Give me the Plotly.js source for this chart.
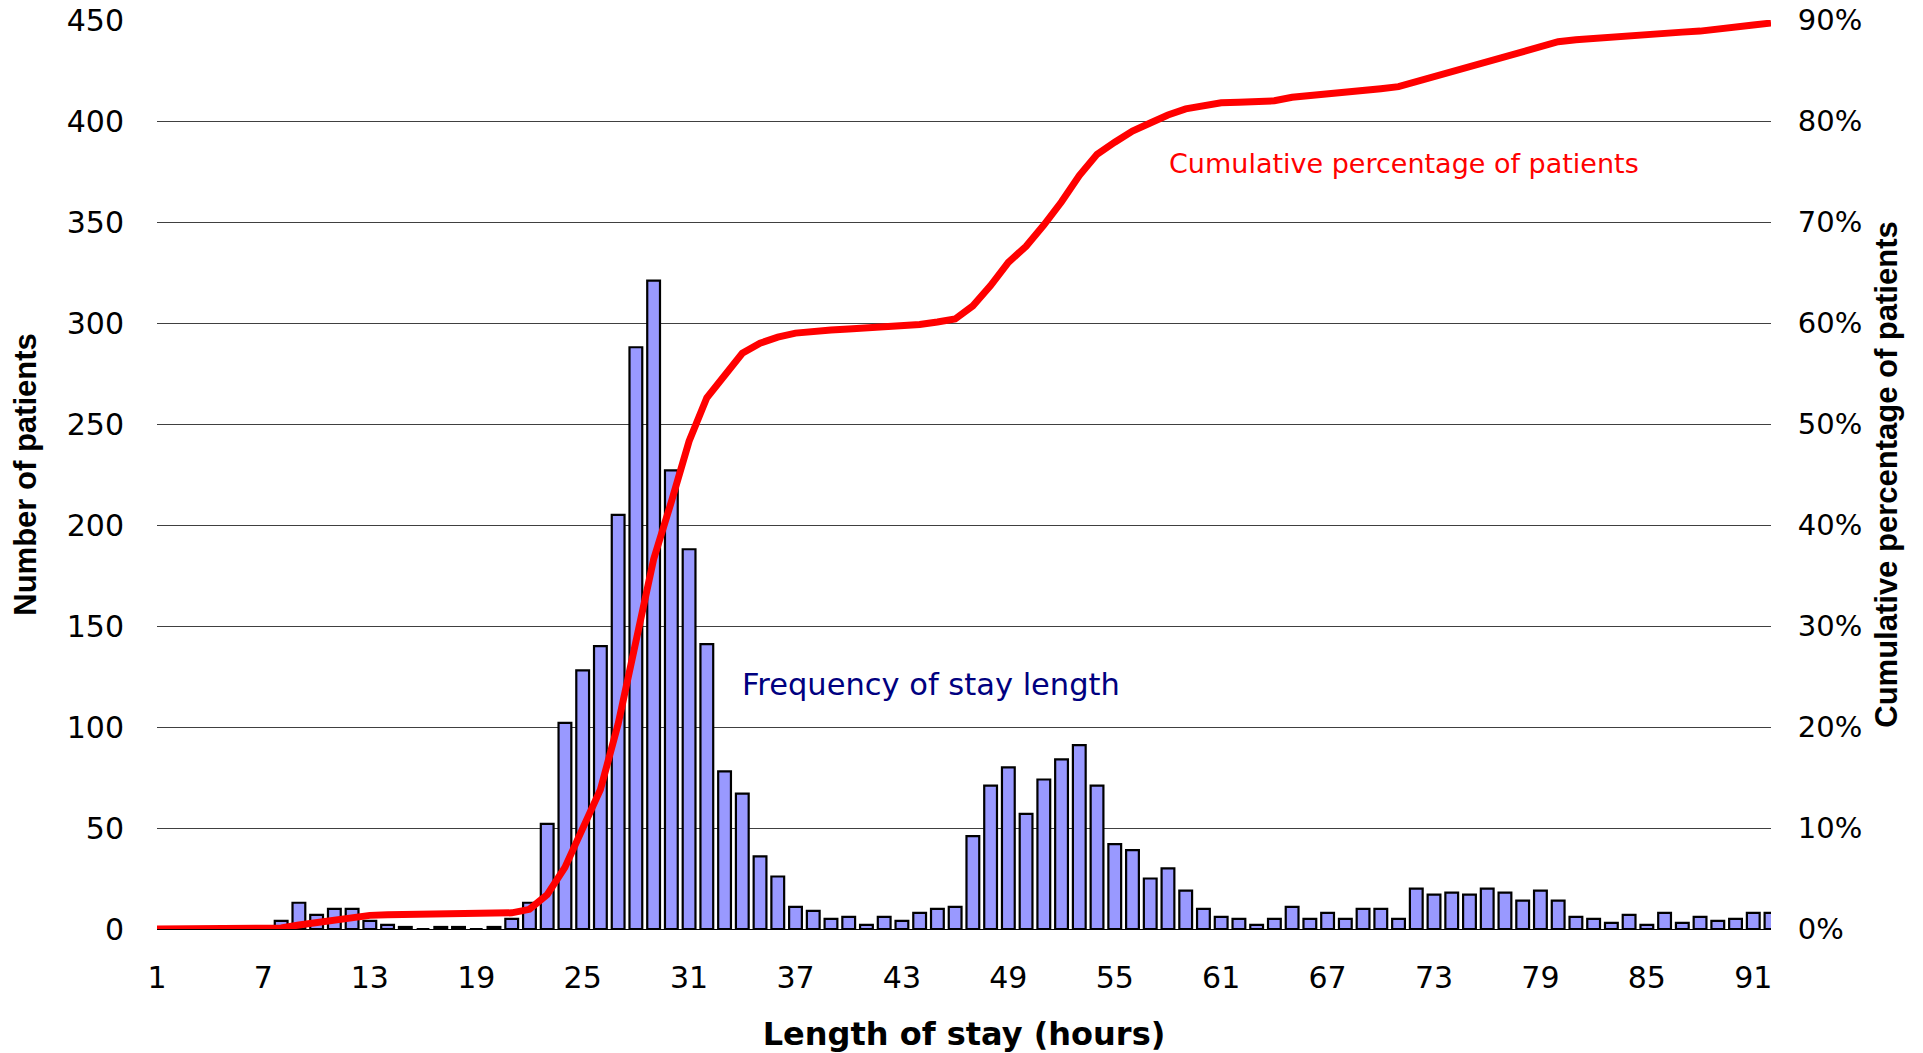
<!DOCTYPE html>
<html>
<head>
<meta charset="utf-8">
<script src="https://cdn.plot.ly/plotly-3.0.1.min.js"></script>
<style>
  html, body { margin: 0; padding: 0; background: #ffffff; }
  #chart { width: 1923px; height: 1053px; }
</style>
</head>
<body>
<div id="chart"></div>
<script>
// Length of stay (hours) categories
var hours = [1,2,3,4,5,6,7,8,9,10,11,12,13,14,15,16,17,18,19,20,21,22,23,24,25,26,27,28,29,30,
  31,32,33,34,35,36,37,38,39,40,41,42,43,44,45,46,47,48,49,50,51,52,53,54,55,56,57,58,59,60,
  61,62,63,64,65,66,67,68,69,70,71,72,73,74,75,76,77,78,79,80,81,82,83,84,85,86,87,88,89,90,91,92];

// Frequency of stay length (number of patients)
var patients = [0,0,0,0,0,0,0,4,13,7,10,10,4,2,1,0,1,1,0,1,5,13,52,102,128,140,205,288,321,227,
  188,141,78,67,36,26,11,9,5,6,2,6,4,8,10,11,46,71,80,57,74,84,91,71,42,39,25,30,19,10,
  6,5,2,5,11,5,8,5,10,10,5,20,17,18,17,20,18,14,19,14,6,5,3,7,2,8,3,6,4,5,8,8];

// Cumulative percentage of patients (%)
var cumulativePct = [0,0,0,0,0,0,0,0.1,0.4,0.65,0.95,1.2,1.35,1.4,1.42,1.42,1.45,1.47,1.47,1.5,
  1.6,1.95,3.4,6.1,9.8,13.8,20.3,28.4,36.6,42.3,48.3,52.6,54.8,57.0,58.0,58.6,59.0,59.2,59.3,59.4,
  59.5,59.6,59.7,59.85,60.1,60.4,61.7,63.7,66.0,67.6,69.7,72.0,74.6,76.7,77.9,79.0,79.8,80.6,81.2,81.5,
  81.8,81.85,81.9,82.0,82.35,82.5,82.6,82.8,83.0,83.2,83.4,83.9,84.5,85.0,85.5,86.0,86.5,86.9,87.4,87.85,
  88.05,88.2,88.25,88.4,88.5,88.7,88.8,88.9,89.05,89.25,89.5,89.7];

// Tick labels
var xTickVals = [1,7,13,19,25,31,37,43,49,55,61,67,73,79,85,91];
var yLeftTicks = [0,50,100,150,200,250,300,350,400,450];
var yRightTicks = [0,10,20,30,40,50,60,70,80,90];

var tickFont = {family: '"DejaVu Sans", Verdana, sans-serif', size: 30, color: '#000000'};
var tickFontRight = {family: '"DejaVu Sans", Verdana, sans-serif', size: 29, color: '#000000'};
var titleFontWide = {family: '"DejaVu Sans", Verdana, sans-serif', size: 32, color: '#000000', weight: 'bold'};
var titleFontArial = {family: '"Liberation Sans", Arial, sans-serif', size: 31, color: '#000000', weight: 'bold'};

var traces = [
  {
    type: 'bar',
    x: hours,
    y: patients,
    width: 0.72,
    marker: {color: '#9999FF', line: {color: '#000000', width: 2.2}},
    yaxis: 'y',
    hoverinfo: 'x+y',
    showlegend: false
  },
  {
    type: 'scatter',
    mode: 'lines',
    x: hours,
    y: cumulativePct,
    line: {color: '#FF0000', width: 7},
    yaxis: 'y2',
    showlegend: false
  }
];

var layout = {
  width: 1923,
  height: 1053,
  paper_bgcolor: '#ffffff',
  plot_bgcolor: '#ffffff',
  margin: {l: 157, r: 152, t: 20, b: 124},
  bargap: 0,
  xaxis: {
    range: [1, 92],
    tickmode: 'array',
    tickvals: xTickVals,
    ticktext: xTickVals.map(String),
    showgrid: false,
    zeroline: false,
    showline: false,
    ticks: 'outside',
    ticklen: 22,
    tickcolor: 'rgba(0,0,0,0)',
    tickfont: tickFont,
    title: {text: 'Length of stay (hours)', font: titleFontWide, standoff: 28}
  },
  yaxis: {
    range: [0, 450],
    tickmode: 'array',
    tickvals: yLeftTicks,
    ticktext: yLeftTicks.map(String),
    showgrid: true,
    gridcolor: '#404040',
    gridwidth: 1,
    zeroline: true,
    zerolinecolor: '#000000',
    zerolinewidth: 1,
    showline: false,
    ticks: 'outside',
    ticklen: 26,
    tickcolor: 'rgba(0,0,0,0)',
    tickfont: tickFont,
    title: {text: 'Number of patients', font: titleFontArial, standoff: 20}
  },
  yaxis2: {
    range: [0, 90],
    overlaying: 'y',
    side: 'right',
    tickmode: 'array',
    tickvals: yRightTicks,
    ticktext: yRightTicks.map(function (v) { return v + '%'; }),
    showgrid: false,
    zeroline: false,
    showline: false,
    ticks: 'outside',
    ticklen: 20,
    tickcolor: 'rgba(0,0,0,0)',
    tickfont: tickFontRight,
    title: {text: 'Cumulative percentage of patients', font: titleFontArial, standoff: 14}
  },
  annotations: [
    {
      text: 'Cumulative percentage of patients',
      xref: 'paper', yref: 'paper',
      x: (1167 - 157) / (1771 - 157), y: (929 - 163) / 909,
      xanchor: 'left', yanchor: 'middle',
      showarrow: false,
      font: {family: '"DejaVu Sans", Verdana, sans-serif', size: 27, color: '#FF0000'}
    },
    {
      text: 'Frequency of stay length',
      xref: 'paper', yref: 'paper',
      x: (740 - 157) / (1771 - 157), y: (929 - 684) / 909,
      xanchor: 'left', yanchor: 'middle',
      showarrow: false,
      font: {family: '"DejaVu Sans", Verdana, sans-serif', size: 30.5, color: '#000080'}
    }
  ]
};

Plotly.newPlot('chart', traces, layout, {displayModeBar: false, staticPlot: true});
</script>
</body>
</html>
